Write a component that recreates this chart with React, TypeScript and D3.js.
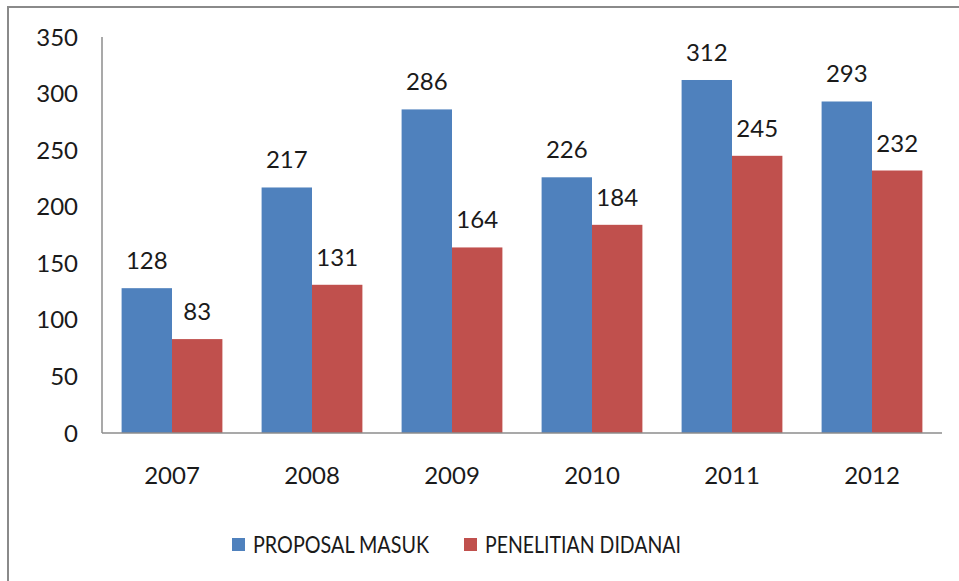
import React from "react";
import * as d3 from "d3";

const categories = ["2007", "2008", "2009", "2010", "2011", "2012"];
const proposalMasuk = [128, 217, 286, 226, 312, 293];
const penelitianDidanai = [83, 131, 164, 184, 245, 232];
const yTicks = [0, 50, 100, 150, 200, 250, 300, 350];
const seriesNames = ["PROPOSAL MASUK", "PENELITIAN DIDANAI"];
const seriesColors = ["#4F81BD", "#C0504D"];

const W = 959;
const H = 581;
const left = 102;
const right = 942;
const top = 37;
const bottom = 433;
const font = "Lato, 'Open Sans', sans-serif";

export default function App() {
  const x = d3.scaleBand<string>().domain(categories).range([left, right]).paddingInner(0.28).paddingOuter(0.14);
  const sub = d3.scaleBand<string>().domain(seriesNames).range([0, x.bandwidth()]);
  const y = d3.scaleLinear().domain([0, 350]).range([bottom, top]);
  const series = [proposalMasuk, penelitianDidanai];

  return (
    <svg width={W} height={H} style={{ position: "absolute", left: 0, top: 0 }}>
      <rect x={0} y={0} width={W} height={H} fill="#fff" />
      <path d={`M8,${H + 5} L8,7 L${W + 5},7`} fill="none" stroke="#8a8a8a" strokeWidth={2} />
      {series.map((vals, si) =>
        vals.map((v, i) => {
          const bx = (x(categories[i]) as number) + (sub(seriesNames[si]) as number);
          const bw = sub.bandwidth();
          return (
            <g key={`${si}-${i}`}>
              <rect x={bx} y={y(v)} width={bw} height={bottom - y(v)} fill={seriesColors[si]} />
              <text
                x={bx + bw / 2}
                y={y(v) - 19}
                textAnchor="middle"
                fontFamily={font}
                fontSize={24}
                fill="#1a1a1a"
              >
                {v}
              </text>
            </g>
          );
        })
      )}
      <line x1={left} x2={left} y1={top} y2={bottom} stroke="#8c8c8c" strokeWidth={1.5} />
      <line x1={left} x2={right} y1={bottom} y2={bottom} stroke="#8c8c8c" strokeWidth={1.5} />
      {yTicks.map((t) => (
        <text key={t} x={78} y={y(t) + 8.5} textAnchor="end" fontFamily={font} fontSize={24} fill="#1a1a1a">
          {t}
        </text>
      ))}
      {categories.map((c) => (
        <text
          key={c}
          x={(x(c) as number) + x.bandwidth() / 2}
          y={484}
          textAnchor="middle"
          fontFamily={font}
          fontSize={24}
          fill="#1a1a1a"
        >
          {c}
        </text>
      ))}
      {seriesNames.map((n, i) => {
        const lx = [232, 464][i];
        const tl = [176, 196][i];
        return (
          <g key={n}>
            <rect x={lx} y={538} width={13} height={13} fill={seriesColors[i]} />
            <text
              x={lx + 21}
              y={552.5}
              fontFamily={font}
              fontSize={24}
              fill="#1a1a1a"
              textLength={tl}
              lengthAdjust="spacingAndGlyphs"
            >
              {n}
            </text>
          </g>
        );
      })}
    </svg>
  );
}
